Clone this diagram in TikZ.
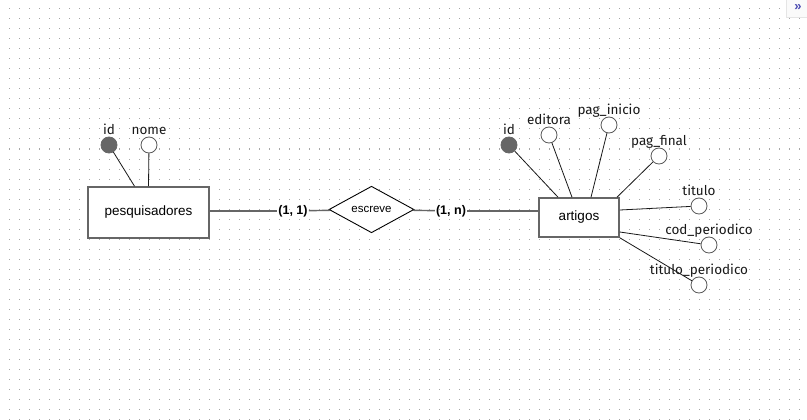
\documentclass[tikz,border=0pt]{standalone}
\usepackage{fontspec}
\newfontfamily\attrfont{Fira Sans}
\newfontfamily\entfont{Liberation Sans}
\usetikzlibrary{shapes.geometric}
\tikzset{entity/.style={draw=black!60, line width=1.6pt, fill=white, minimum width=121pt, minimum height=51pt, inner sep=0pt, font=\entfont\fontsize{13.5}{16}\selectfont},
  relation/.style={diamond, draw=black, line width=0.9pt, fill=white, minimum width=85pt, minimum height=45pt, inner sep=0pt, font=\entfont\fontsize{11.5}{14}\selectfont},
  card/.style={inner sep=1pt, font=\entfont\bfseries\fontsize{12.5}{15}\selectfont},
  attr/.style={circle, draw=black!65, line width=0.8pt, fill=white, minimum size=16pt, inner sep=0pt},
  keyattr/.style={attr, fill=black!60, draw=black!60},
  link/.style={draw=black!60, line width=1.4pt},
  arm/.style={draw=black!90, line width=0.8pt},
  every label/.style={inner sep=0pt, text depth=0pt, font=\attrfont\fontsize{13.5}{16}\selectfont, text=black!90},
  label distance=2pt}

\begin{document}
\begin{tikzpicture}[x=1pt, y=-1pt]
   \useasboundingbox (0,0) rectangle (807,420);
   \fill[white] (0,0) rectangle (807,420);
   \foreach \i in {0,...,79}
     \foreach \j in {0,...,41}
       \fill[black!35] (8.5+10*\i, 8.5+10*\j) rectangle ++(1,1);
   \node[draw=black!10, fill=black!2, minimum width=26pt, minimum height=26pt, inner sep=0pt, text=blue!40!gray] (toggle) at (799,4) {};
   \node[inner sep=0pt, text=blue!40!gray] (chevron) at (798,7.5) {\entfont\bfseries\fontsize{13}{13}\selectfont »};
   \begin{scope}
    \node[entity] (pesq) at (148.5,212.5) {pesquisadores};
    \node[keyattr, label=above:id] (pid) at (109,145) {};
    \node[attr, label=above:nome] (pnome) at (149,145) {};
    \draw[arm] (pid) -- ([xshift=-14pt]pesq.north);
    \draw[arm] (pnome) -- (pesq.north);
   \end{scope}
   \node[relation] (escreve) at (371.5,209.5) {escreve};
   \node[card] (c11) at (293,211) {(1, 1)};
   \node[card] (c1n) at (451,211) {(1, n)};
   \begin{scope}
    \node[entity, minimum width=80pt, minimum height=39pt] (artigos) at (579,217.5) {artigos};
    \node[keyattr, label=above:id] (aid) at (509,145) {};
    \node[attr, label=above:editora] (aeditora) at (549,135) {};
    \node[attr, label=above:pag\_inicio] (apinicio) at (609,125) {};
    \node[attr, label=above:pag\_final] (apfinal) at (659,156) {};
    \node[attr, label=above:titulo] (atitulo) at (699,206) {};
    \node[attr, label=above:cod\_periodico] (acod) at (709,245) {};
    \node[attr, label=above:titulo\_periodico] (atper) at (699,285) {};
    \draw[arm] (aid) -- ([xshift=-21pt]artigos.north);
    \draw[arm] (aeditora) -- ([xshift=-7pt]artigos.north);
    \draw[arm] (apinicio) -- ([xshift=12pt]artigos.north);
    \draw[arm] (apfinal) -- ([xshift=38pt]artigos.north);
    \draw[arm] (atitulo) -- ([yshift=7.5pt]artigos.east);
    \draw[arm] (acod) -- ([yshift=-14.5pt]artigos.east);
    \draw[arm] (atper) -- (artigos.south east);
   \end{scope}
   \draw[link] (pesq.east |- c11) -- (c11);
   \draw[link] (c11) -- (escreve);
   \draw[link] (escreve) -- (c1n);
   \draw[link] (c1n) -- (c1n -| artigos.west);
  \end{tikzpicture}
\end{document}
